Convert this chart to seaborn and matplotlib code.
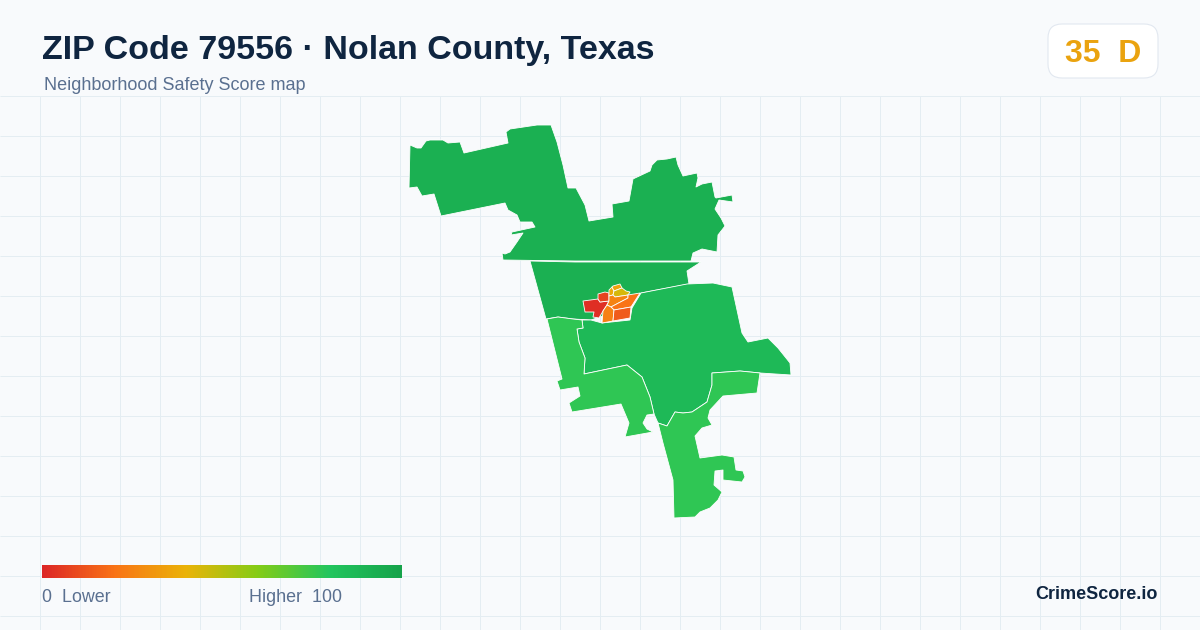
import numpy as np
import matplotlib
matplotlib.use("Agg")
import matplotlib.pyplot as plt
from matplotlib.patches import FancyBboxPatch
import seaborn as sns

# ---- content ----
title = "ZIP Code 79556 · Nolan County, Texas"
subtitle = "Neighborhood Safety Score map"
badge = "35  D"
brand = "CrimeScore.io"
legend_low = "0  Lower"
legend_high = "Higher  100"
ramp_colors = ["#dc2626", "#f97316", "#eab308", "#84cc16", "#22c55e", "#16a34a"]

# ---- tract outlines ----
north = [(410,145),(417,148),(421,148),(426,141),(430,140),(443,140),(448,143),(460,142),(464,153),(508,143),(506,132),(510,129),
         (537,125),(551,125),(557,142),(563,165),(568,188),(576,188),(585,205),(589,221),(613,217),(612,204),
         (629,201),(633,179),(635,178),(650,171),(652,165),(657,160),(667,159),(676,157),(678,165),(683,176),(697,173),(698,178),
         (696,187),(702,184),(712,182),(715,197),(716,198),(732,195),(733,202),(719,200),(715,209),(721,218),(725,226),(718,235),
         (717,252),(702,249),(693,253),
         (691,261),(575,261),(503,260),(502,253),(505,254),(510,252),(517,242),(523,233),(511,235),(512,232),(535,227),
         (532,222),(520,222),(517,215),(508,210),(505,203),(441,216),(434,194),(422,196),(417,187),(409,188)]
central = [(530,261),(575,262),(701,262),(687,271),(689,284),(641,293),(620,310),(591,320),(573,319),(558,317),(546,319)]
east = [(641,293),(687,284),(713,283),(732,287),(742,333),(748,342),(768,338),(778,348),(790,363),(791,375),
        (760,373),(740,371),(712,373),(712,385),(707,402),(692,412),(683,413),(675,412),(667,426),(658,423),
        (654,414),(650,397),(642,377),(627,365),(584,374),(585,358),(579,342),(577,329),(583,328),(582,320),
        (591,320),(602,323),(630,320),(632,308)]
west = [(547,319),(558,317),(573,319),(582,320),(583,328),(577,329),(579,342),(585,358),(584,374),(627,365),
        (642,377),(650,397),(654,414),(647,415),(643,423),(647,429),(653,432),(625,437),(629,423),(621,404),
        (572,412),(569,403),(580,396),(578,387),(560,390),(557,381),(562,379)]
south = [(658,423),(667,426),(675,412),(683,413),(692,412),(707,402),(712,385),(712,373),(740,371),(760,373),
         (757,393),(723,396),(710,410),(708,418),(712,425),(702,428),(695,436),(700,458),(722,455),(734,457),
         (736,470),(743,471),(745,477),(742,482),(723,480),(723,470),(715,471),(714,485),(722,492),(718,500),
         (710,508),(700,512),(695,517),(674,518),(673,480),(663,443)]
city_red = [(583,301),(598,299),(600,302),(609,301),(607,305),(603,311),(599,318),(593,317),(594,312),(585,312)]
city_redorange = [(598,294),(605,292),(609,293),(609,296),(609,301),(600,302),(598,299)]
city_yellow = [(609,293),(609,290),(612,287),(614,291),(613,295),(609,296)]
city_top = [(612,287),(613,286),(620,284),(622,288),(614,291)]
city_lime = [(614,291),(622,288),(626,291),(630,292),(628,295),(615,297),(613,295)]
city_band = [(609,301),(609,296),(613,295),(615,297),(628,295),(628,298),(611,307),(607,305)]
city_orange = [(611,307),(628,298),(628,295),(640,293),(631,307),(614,310)]
city_lowleft = [(602,323),(603,311),(607,305),(611,307),(614,310),(613,321)]
city_lowright = [(614,310),(631,307),(630,318),(613,321)]

tracts = [north, central, east, west, south, city_red, city_redorange, city_yellow, city_top,
          city_lime, city_band, city_orange, city_lowleft, city_lowright]
scores = [92, 92, 87, 77, 77, 2, 8, 37, 35, 44, 25, 20, 24, 14]

# ---- theme ----
sns.set_theme(style="white")
plt.rcParams["font.family"] = ["Liberation Sans", "DejaVu Sans"]
cmap = sns.blend_palette(ramp_colors, n_colors=256, as_cmap=True)

fig = plt.figure(figsize=(12, 6.3), dpi=100, facecolor="#f8fafc")
ax = fig.add_axes([0, 0, 1, 1])
ax.set_xlim(0, 1200)
ax.set_ylim(630, 0)
ax.axis("off")

# background grid below the header
ax.vlines(np.arange(40, 1200, 40), 96, 630, color="#e4edf2", lw=0.72, zorder=1)
ax.hlines(np.arange(96, 630, 40), 0, 1200, color="#e4edf2", lw=0.72, zorder=1)

# map
for poly, score in zip(tracts, scores):
    xy = np.array(poly)
    ax.fill(xy[:, 0], xy[:, 1], facecolor=cmap(score / 100), edgecolor="white", lw=0.6, zorder=3, joinstyle="round")

# header
ax.text(42, 59.5, title, fontsize=24.45, fontweight="bold", color="#0f2540", va="baseline", ha="left")
ax.text(44, 90.5, subtitle, fontsize=12.95, color="#5a7090", va="baseline", ha="left")

# badge
ax.add_patch(FancyBboxPatch((1062, 38), 82, 26, boxstyle="round,pad=14,rounding_size=14",
                            fc="white", ec="#e2e8f0", lw=0.8, zorder=4))
ax.text(1103, 62, badge, fontsize=23, fontweight="bold", color="#eaa30f", va="baseline", ha="center", zorder=5)

# legend ramp
lax = fig.add_axes([42 / 1200, 1 - 578 / 630, 360 / 1200, 13 / 630])
sns.heatmap(np.linspace(0, 100, 360)[None, :], ax=lax, cmap=cmap, vmin=0, vmax=100, cbar=False,
            xticklabels=False, yticklabels=False, linewidths=0, rasterized=True)
ax.text(42, 602.5, legend_low, fontsize=12.9, color="#5a7090", va="baseline", ha="left")
ax.text(249, 602.5, legend_high, fontsize=12.9, color="#5a7090", va="baseline", ha="left")
ax.text(1158, 599, brand, fontsize=13, fontweight="bold", color="#0f2540", va="baseline", ha="right")

fig.savefig("out.png", dpi=100, facecolor=fig.get_facecolor())
